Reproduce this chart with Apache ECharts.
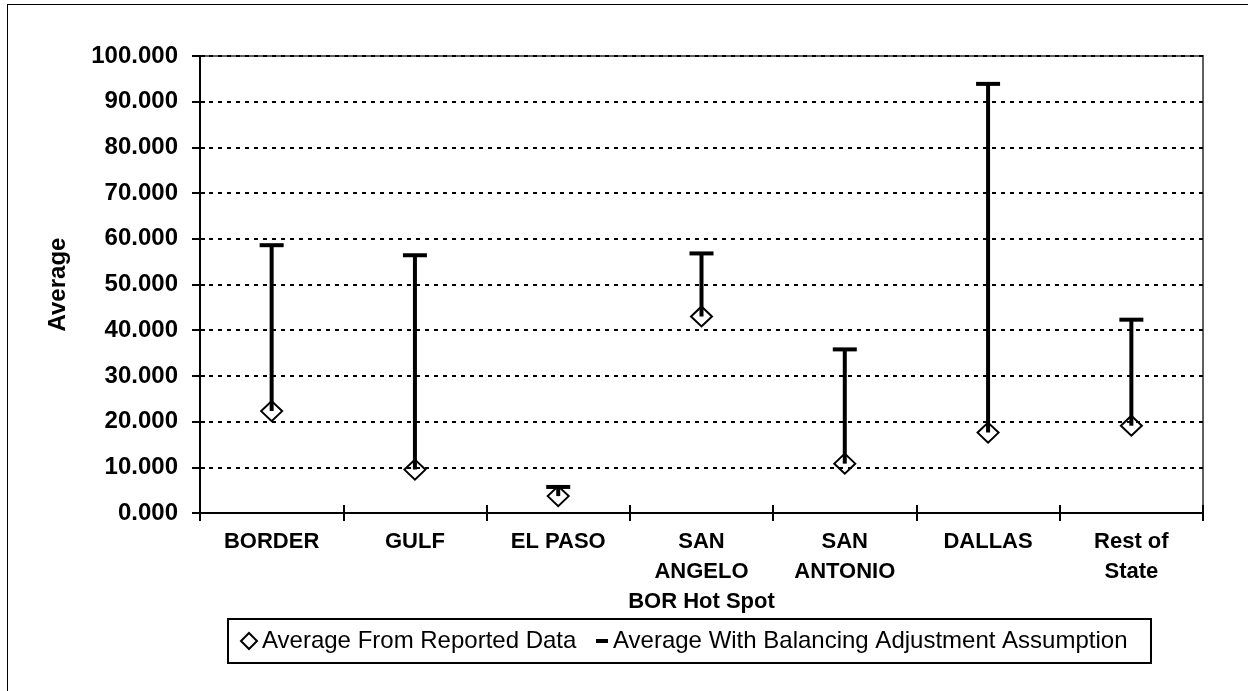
<!DOCTYPE html>
<html>
<head>
<meta charset="utf-8">
<title>Average by region</title>
<script src="https://cdn.jsdelivr.net/npm/echarts@6/dist/echarts.min.js"></script>
<style>
  html, body { margin: 0; padding: 0; background: #fff; overflow: hidden; }
  #frame { position: absolute; left: 7px; top: 4px; width: 2000px; height: 2000px; border-left: 1px solid #000; border-top: 1px solid #000; }
  #chart { position: absolute; left: 0; top: 0; width: 1248px; height: 691px; }
</style>
</head>
<body>
<div id="frame"></div>
<div id="chart"></div>
<script>
const categories = ['BORDER', 'GULF', 'EL PASO', 'SAN\nANGELO\nBOR Hot Spot', 'SAN\nANTONIO', 'DALLAS', 'Rest of\nState']
const reportedAvg = [22.3, 9.5, 3.7, 43.0, 10.8, 17.6, 19.1]
const balancedAvg = [58.6, 56.4, 5.7, 56.8, 35.8, 93.9, 42.3]
const yTicks = { min: 0, max: 100, interval: 10 }

const FONT = '"Liberation Sans", Arial, sans-serif'
const LEGEND_SIZE = 24
const nameReported = 'Average From Reported Data'
const nameBalanced = 'Average With Balancing Adjustment Assumption'

// legend box spans 228 -> 1150, the 2nd legend sits inside the 1st one's padding
const ctx = document.createElement('canvas').getContext('2d')
ctx.font = LEGEND_SIZE + 'px ' + FONT
const textW = ctx.measureText(nameReported).width
const boxLeft = 228
const boxRight = 1150
const padL = 12
const padRight = boxRight - boxLeft - padL - 16 - 5 - textW

const chart = echarts.init(document.getElementById('chart'))

const options = {
  animation: false,
  textStyle: { fontFamily: FONT, color: '#000' },
  grid: {
    left: 200,
    right: 45,
    top: 56,
    bottom: 178,
    show: true,
    borderColor: '#606060',
    borderWidth: 2,
  },
  legend: [
    {
      data: [{ name: nameReported, icon: 'diamond' }],
      left: boxLeft,
      top: 619,
      padding: [10, padRight, 10, padL],
      itemWidth: 16,
      itemHeight: 16,
      borderColor: '#000',
      borderWidth: 2,
      borderRadius: 0,
      selectedMode: false,
      itemStyle: { color: 'rgba(0,0,0,0)', borderColor: '#000', borderWidth: 2 },
      textStyle: { fontSize: LEGEND_SIZE, color: '#000', fontFamily: FONT },
    },
    {
      data: [{ name: nameBalanced, icon: 'rect' }],
      left: 596,
      top: 629,
      padding: 0,
      itemWidth: 12,
      itemHeight: 4,
      selectedMode: false,
      itemStyle: { color: '#000', borderWidth: 0 },
      textStyle: { fontSize: LEGEND_SIZE, color: '#000', fontFamily: FONT },
    },
  ],
  xAxis: [
    {
      type: 'category',
      data: categories,
      position: 'bottom',
      axisLine: { lineStyle: { color: '#000', width: 2 } },
      axisTick: { show: true, length: 8, lineStyle: { color: '#000', width: 2 } },
      axisLabel: {
        interval: 0,
        margin: 14,
        fontSize: 22,
        fontWeight: 'bold',
        lineHeight: 30,
        color: '#000',
        fontFamily: FONT,
      },
      splitLine: { show: false },
    },
    {
      // inner half of the cross tick marks
      type: 'category',
      data: categories,
      position: 'bottom',
      axisLine: { show: false },
      axisTick: { show: true, inside: true, length: 8, lineStyle: { color: '#000', width: 2 } },
      axisLabel: { show: false },
      splitLine: { show: false },
    },
  ],
  yAxis: [
    {
      type: 'value',
      min: yTicks.min,
      max: yTicks.max,
      interval: yTicks.interval,
      name: 'Average',
      nameLocation: 'middle',
      nameRotate: 90,
      nameGap: 130,
      nameTextStyle: { fontSize: 24, fontWeight: 'bold', color: '#000', fontFamily: FONT },
      axisLine: { show: true, lineStyle: { color: '#000', width: 2 } },
      axisTick: { show: true, length: 8, lineStyle: { color: '#000', width: 2 } },
      axisLabel: {
        margin: 22,
        fontSize: 24,
        fontWeight: 'bold',
        color: '#000',
        fontFamily: FONT,
        formatter: (v) => v.toFixed(3),
      },
      splitLine: {
        show: true,
        lineStyle: { color: '#000', width: 2, type: [4, 5] },
      },
    },
    {
      type: 'value',
      min: yTicks.min,
      max: yTicks.max,
      interval: yTicks.interval,
      position: 'left',
      axisLine: { show: false },
      axisTick: { show: true, inside: true, length: 5, lineStyle: { color: '#000', width: 2 } },
      axisLabel: { show: false },
      splitLine: { show: false },
    },
  ],
  series: [
    {
      // high-low line between the two averages
      name: 'range',
      type: 'custom',
      data: categories.map((c, i) => [i, reportedAvg[i], balancedAvg[i]]),
      encode: { x: 0, y: [1, 2] },
      z: 2,
      renderItem(params, api) {
        const lo = api.coord([api.value(0), api.value(1)])
        const hi = api.coord([api.value(0), api.value(2)])
        return {
          type: 'line',
          shape: { x1: lo[0], y1: lo[1], x2: hi[0], y2: hi[1] },
          style: { stroke: '#000', lineWidth: 4 },
        }
      },
    },
    {
      name: nameBalanced,
      type: 'scatter',
      data: balancedAvg,
      symbol: 'rect',
      symbolSize: [24, 4],
      itemStyle: { color: '#000', opacity: 1 },
      z: 3,
    },
    {
      name: nameReported,
      type: 'scatter',
      data: reportedAvg,
      symbol: 'diamond',
      symbolSize: [21, 20],
      itemStyle: { color: 'rgba(0,0,0,0)', borderColor: '#000', borderWidth: 2, opacity: 1 },
      z: 4,
    },
  ],
}

chart.setOption(options, true)
</script>
</body>
</html>
